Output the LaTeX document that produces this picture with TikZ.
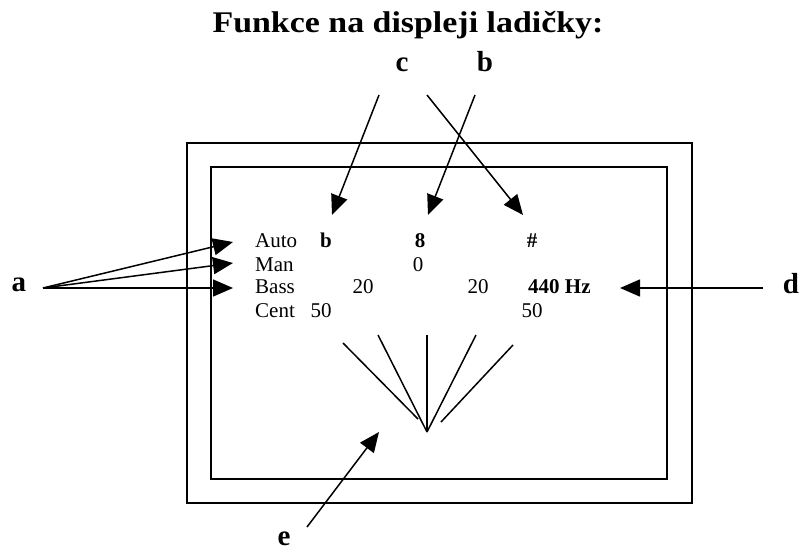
\documentclass[tikz,border=0pt]{standalone}
\usepackage{fontspec}
\setmainfont{Liberation Serif}
\usetikzlibrary{arrows.meta}

\tikzset{
	lbl/.style={font=\fontsize{29}{31}\selectfont\bfseries, inner sep=0pt, anchor=base},
	disp/.style={font=\fontsize{21}{23}\selectfont, inner sep=0pt, anchor=base},
	dispb/.style={font=\fontsize{21}{23}\selectfont\bfseries, inner sep=0pt, anchor=base},
	pointer/.style={-{Triangle[length=20pt,width=17pt]}, line width=1.5pt},
	frame/.style={draw, line width=1.5pt}
}

\begin{document}
\begin{tikzpicture}[x=1pt, y=-1pt]
		\useasboundingbox (0,0) rectangle (806,551);
		
		\node[lbl, font=\fontsize{30}{32}\selectfont\bfseries] (title) at (408,33) {\scalebox{1.13}[1]{Funkce na displeji ladičky:}};
		
		\draw[frame] (187,143) rectangle (692,503);
		\draw[frame] (211,167) rectangle (667,479);
		
		\node[disp, anchor=base west] (auto) at (255,247) {Auto};
		\node[disp, anchor=base west] (man) at (255,271) {Man};
		\node[disp, anchor=base west] (bass) at (255,293) {Bass};
		\node[disp, anchor=base west] (cent) at (255,317) {Cent};
		
		\node[dispb] (flat) at (326,247) {b};
		\node[dispb] (note) at (420,247) {8};
		\node[dispb] (sharp) at (532,247) {\#};
		\node[disp] (oct) at (418,271) {0};
		\node[disp] (bassL) at (363,293) {20};
		\node[disp] (bassR) at (478,293) {20};
		\node[dispb, anchor=base west] (freq) at (528,293) {440 Hz};
		\node[disp] (centL) at (321,317) {50};
		\node[disp] (centR) at (532,317) {50};
		
		\node[lbl] (c) at (402,72) {c};
		\node[lbl] (b) at (485,72) {b};
		\node[lbl] (a) at (19,291) {a};
		\node[lbl] (d) at (791,293) {d};
		\node[lbl] (e) at (284,545) {e};
		
		\coordinate (cA) at (379,95);
		\coordinate (cB) at (427,95);
		\coordinate (bA) at (475,95);
		\coordinate (aT) at (43,288);
		\coordinate (dT) at (763,288);
		\coordinate (eT) at (307,527);
		
		\coordinate (flatP) at (332,215);
		\coordinate (noteP) at (428,215);
		\coordinate (sharpP) at (523,215);
		\coordinate (autoP) at (233,242);
		\coordinate (manP) at (233,263);
		\coordinate (bassP) at (233,288);
		\coordinate (freqP) at (620,288);
		\coordinate (fanP) at (379,432);
		
		\draw[pointer] (cA) -- (flatP);
		\draw[pointer] (cB) -- (sharpP);
		\draw[pointer] (bA) -- (noteP);
		\draw[pointer] (aT) -- (autoP);
		\draw[pointer] (aT) -- (manP);
		\draw[pointer] (aT) -- (bassP);
		\draw[pointer] (dT) -- (freqP);
		\draw[pointer] (eT) -- (fanP);
		
		\coordinate (hub) at (427,432);
		\coordinate (f1) at (343,343);
		\coordinate (f2) at (378,335);
		\coordinate (f3) at (427,335);
		\coordinate (f4) at (476,335);
		\coordinate (f5) at (513,345);
		
		\draw[line width=1.5pt] (f1) -- (418,419);
		\draw[line width=1.5pt] (f2) -- (hub);
		\draw[line width=1.5pt] (f3) -- (hub);
		\draw[line width=1.5pt] (f4) -- (hub);
		\draw[line width=1.5pt] (f5) -- (441,422);
	\end{tikzpicture}
\end{document}
